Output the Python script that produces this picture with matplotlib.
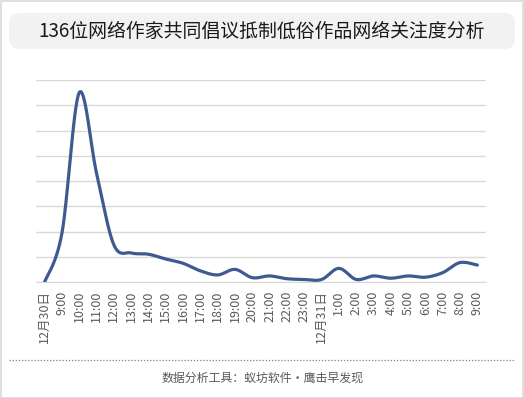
import numpy as np
import matplotlib
matplotlib.use("Agg")
import matplotlib.pyplot as plt
from matplotlib.patches import FancyBboxPatch, Rectangle
from matplotlib.lines import Line2D

plt.rcParams['font.family'] = ['Noto Sans CJK SC', 'DejaVu Sans']

title = "136位网络作家共同倡议抵制低俗作品网络关注度分析"
footer = "数据分析工具：蚁坊软件·鹰击早发现"
labels = ["12月30日", "9:00", "10:00", "11:00", "12:00", "13:00", "14:00", "15:00",
          "16:00", "17:00", "18:00", "19:00", "20:00", "21:00", "22:00", "23:00",
          "12月31日", "1:00", "2:00", "3:00", "4:00", "5:00", "6:00", "7:00", "8:00", "9:00"]
values = [0.0, 1.94, 7.5, 4.3, 1.47, 1.15, 1.1, 0.91, 0.74, 0.44, 0.28, 0.5, 0.17, 0.24,
          0.13, 0.1, 0.1, 0.54, 0.1, 0.24, 0.15, 0.24, 0.19, 0.37, 0.77, 0.67]


def smooth(xs, ys, n=30, t=0.5):
    # Catmull-Rom style rendering through the data points
    xs = np.asarray(xs, float); ys = np.asarray(ys, float)
    px = np.concatenate([[xs[0]], xs, [xs[-1]]])
    py = np.concatenate([[ys[0]], ys, [ys[-1]]])
    ox, oy = [], []
    for i in range(1, len(px) - 2):
        p0 = np.array([px[i - 1], py[i - 1]]); p1 = np.array([px[i], py[i]])
        p2 = np.array([px[i + 1], py[i + 1]]); p3 = np.array([px[i + 2], py[i + 2]])
        c1 = p1 + (p2 - p0) * t / 3
        c2 = p2 - (p3 - p1) * t / 3
        s = np.linspace(0, 1, n)[:, None]
        b = (1 - s) ** 3 * p1 + 3 * (1 - s) ** 2 * s * c1 + 3 * (1 - s) * s ** 2 * c2 + s ** 3 * p2
        ox.extend(b[:, 0]); oy.extend(b[:, 1])
    return np.array(ox), np.array(oy)


fig = plt.figure(figsize=(5.24, 3.98), dpi=100)
W, H = 524, 398

# outer border
fig.patches.append(Rectangle((0.5 / W, 0.5 / H), 1 - 1.5 / W, 1 - 1.5 / H, transform=fig.transFigure,
                             fill=False, edgecolor="#d9d9d9", linewidth=1.2))
# title box
fig.patches.append(FancyBboxPatch((9 / W, 1 - 49 / H), 506 / W, 36 / H, transform=fig.transFigure,
                                  boxstyle="round,pad=0,rounding_size=0.02", facecolor="#f2f2f2",
                                  edgecolor="none", mutation_aspect=W / H))
fig.text(0.5, 1 - 31 / H, title, ha="center", va="center", fontsize=13.6, color="#1a1a1a")

ax = fig.add_axes([36 / W, 1 - 282 / H, 450 / W, 202 / H])
x = np.arange(len(values))
sx, sy = smooth(x, values)
ax.plot(sx, sy, color="#3e5a91", linewidth=2.3, solid_capstyle="round", zorder=3)
ax.set_xlim(-0.5, len(values) - 0.5)
ax.set_ylim(0, 8)
ax.set_yticks(np.arange(0, 9, 1))
ax.yaxis.grid(True, color="#d9d9d9", linewidth=1)
ax.set_yticklabels([])
ax.tick_params(axis="y", length=0)
ax.set_xticks(x)
ax.set_xticklabels(labels, rotation=90, fontsize=9, color="#595959")
ax.tick_params(axis="x", length=0, pad=6)
for s in ["top", "right", "left"]:
    ax.spines[s].set_visible(False)
ax.spines["bottom"].set_color("#d9d9d9")
ax.set_axisbelow(True)

fig.lines.append(Line2D([9 / W, 515 / W], [1 - 360 / H, 1 - 360 / H], transform=fig.transFigure,
                        color="#808080", linewidth=0.9, linestyle=(0, (1, 1.5))))
fig.text(0.5, 1 - 378 / H, footer, ha="center", va="center", fontsize=8.6, color="#595959")

fig.savefig("out.png", dpi=100)
